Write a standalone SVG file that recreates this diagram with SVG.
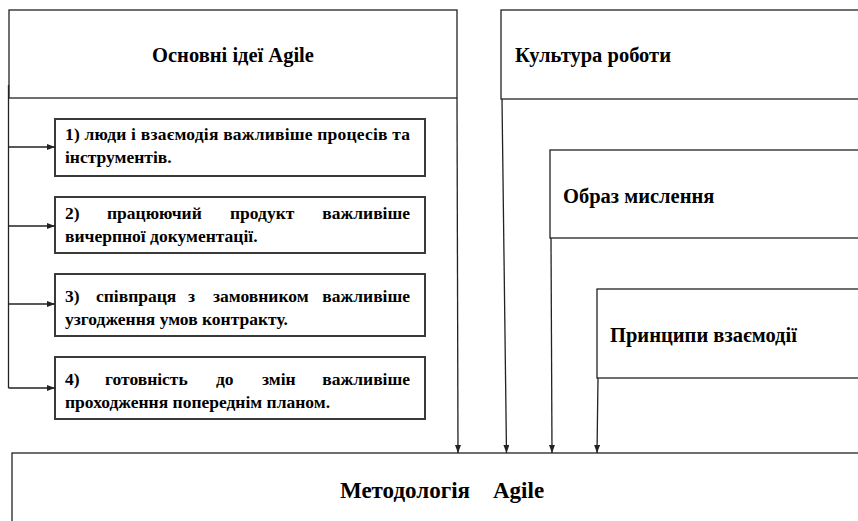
<svg xmlns="http://www.w3.org/2000/svg" width="858" height="521" viewBox="0 0 858 521">
  <style>
    .frame { fill: #ffffff; stroke: #222222; stroke-width: 1.3; }
    .item { fill: #ffffff; stroke: #3a3a3a; stroke-width: 2; }
    .title { font-family: "Liberation Serif", "Times New Roman", serif; font-weight: bold; font-size: 20.5px; fill: #000000; }
    .big { font-size: 23px; }
    .body { font-family: "Liberation Serif", "Times New Roman", serif; font-weight: bold; font-size: 17.5px; fill: #000000; }
    .link { fill: none; stroke: #222222; stroke-width: 1.3; }
  </style>
  <defs>
    <marker id="arrow" viewBox="0 0 8 6" refX="8" refY="3" markerWidth="8" markerHeight="6" markerUnits="userSpaceOnUse" orient="auto">
      <path d="M0,0 L8,3 L0,6 Z" fill="#222222"/>
    </marker>
  </defs>
  <rect width="858" height="521" fill="#ffffff"/>

  <!-- bottom target -->
  <g id="methodology">
    <rect class="frame" x="12" y="453" width="860" height="90"/>
    <text class="title big" y="498"><tspan x="340">Методологія</tspan><tspan x="493">Agile</tspan></text>
  </g>

  <!-- left column -->
  <g id="core-ideas">
    <rect class="frame" x="9" y="10" width="448" height="88"/>
    <text class="title" x="233" y="62" text-anchor="middle">Основні ідеї Agile</text>
  </g>

  <g id="idea-1">
    <rect class="item" x="55" y="119" width="370" height="57"/>
    <text class="body" x="65" y="140" textLength="345" lengthAdjust="spacing">1) люди і взаємодія важливіше процесів та</text>
    <text class="body" x="65" y="163">інструментів.</text>
  </g>

  <g id="idea-2">
    <rect class="item" x="55" y="197" width="370" height="56"/>
    <text class="body" y="219"><tspan x="65">2)</tspan><tspan x="107">працюючий</tspan><tspan x="230">продукт</tspan><tspan x="410" text-anchor="end">важливіше</tspan></text>
    <text class="body" x="65" y="242">вичерпної документації.</text>
  </g>

  <g id="idea-3">
    <rect class="item" x="55" y="274" width="370" height="62"/>
    <text class="body" y="302"><tspan x="65">3)</tspan><tspan x="96">співпраця</tspan><tspan x="188">з</tspan><tspan x="213">замовником</tspan><tspan x="410" text-anchor="end">важливіше</tspan></text>
    <text class="body" x="65" y="325">узгодження умов контракту.</text>
  </g>

  <g id="idea-4">
    <rect class="item" x="55" y="357" width="370" height="62"/>
    <text class="body" y="385"><tspan x="65">4)</tspan><tspan x="105">готовність</tspan><tspan x="216">до</tspan><tspan x="262">змін</tspan><tspan x="410" text-anchor="end">важливіше</tspan></text>
    <text class="body" x="65" y="408">проходження попереднім планом.</text>
  </g>

  <!-- right column, stepped frames -->
  <g id="work-culture">
    <rect class="frame" x="501" y="10" width="370" height="89"/>
    <text class="title" x="515" y="62">Культура роботи</text>
  </g>

  <g id="mindset">
    <rect class="frame" x="550" y="150" width="320" height="88"/>
    <text class="title" x="563" y="203">Образ мислення</text>
  </g>

  <g id="interaction-principles">
    <rect class="frame" x="597" y="289" width="270" height="89"/>
    <text class="title" x="610" y="342">Принципи взаємодії</text>
  </g>

  <!-- connectors -->
  <g id="connectors">
    <path class="link" d="M8.5,85 V388"/>
    <path class="link" d="M8.5,147 H55" marker-end="url(#arrow)"/>
    <path class="link" d="M8.5,226 H55" marker-end="url(#arrow)"/>
    <path class="link" d="M8.5,304 H55" marker-end="url(#arrow)"/>
    <path class="link" d="M8.5,388 H55" marker-end="url(#arrow)"/>
    <path class="link" d="M457,98 L458,453" marker-end="url(#arrow)"/>
    <path class="link" d="M502,99 L506.5,453" marker-end="url(#arrow)"/>
    <path class="link" d="M551,238 L552,453" marker-end="url(#arrow)"/>
    <path class="link" d="M598,378 L597,453" marker-end="url(#arrow)"/>
  </g>
</svg>
